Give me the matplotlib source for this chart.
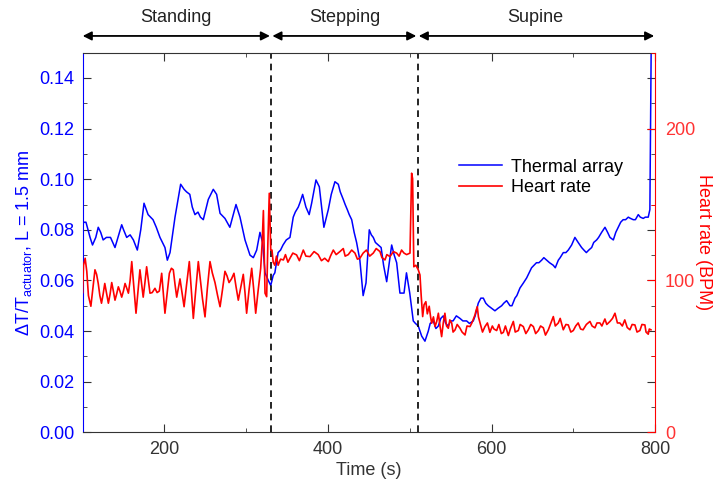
import matplotlib
matplotlib.use("Agg")
import matplotlib.pyplot as plt
from matplotlib.ticker import MultipleLocator
import matplotlib.transforms as mtransforms

plt.rcParams['font.family'] = ['Liberation Sans', 'DejaVu Sans']
plt.rcParams['font.size'] = 13

# Thermal array (blue) : time (s), dT/T
thermal_t = [100, 101, 104, 109, 112, 116, 119, 122, 125, 129, 134, 139.5, 144, 147.7, 150, 153.8, 158, 162, 166.8,
             171, 175, 180, 186, 190, 194.5, 200.6, 203.5, 206.8, 212.9, 219.8, 224, 227, 231, 234, 237.3, 241, 244,
             247.5, 253.6, 259.7, 263.8, 268, 274, 280, 287.5, 292.4, 298.5, 304.6, 308.7, 312.8, 316.8, 320,
             323, 327, 330, 333, 335, 339, 342, 345, 349, 353.5, 357.5, 360, 363.7, 366, 369, 373, 377, 380,
             385.3, 389.4, 395, 400.4, 404, 408.5, 412.6, 415, 418.7, 421, 423.6, 426, 429, 432, 435, 439, 443,
             446.5, 450.5, 453, 455.4, 458, 461.5, 465, 468, 471.8, 477.9, 481, 484, 488, 493, 496, 500, 504.3,
             507, 510.4, 514.6, 518.6, 522.7, 525, 528.8, 532, 535, 538, 541, 544, 547, 550, 553, 557, 561.4,
             565, 569.6, 573, 577.7, 580, 583.8, 587, 590, 593, 596, 600, 604.2, 608, 612.4, 615, 618.5,
             622.6, 625, 628.7, 631, 634.8, 639, 643, 646, 649, 652, 655, 658, 661.3, 664, 667.4, 671, 675.5,
             678, 681.7, 684, 687.8, 691, 693.9, 698, 702, 706, 710.2, 713, 716, 719, 722.5, 725, 728.6, 731,
             734.7, 738.8, 742, 744.9, 749, 752, 755, 758, 761, 764, 767.3, 770, 773.4, 776, 779.5, 782, 785.6,
             788, 791.7, 793.7, 795.5]
thermal_v = [0.080, 0.083, 0.083, 0.077, 0.074, 0.077, 0.081, 0.079, 0.076, 0.077, 0.077, 0.073, 0.078, 0.082, 0.080,
             0.077, 0.078, 0.076, 0.072, 0.080, 0.0905, 0.086, 0.084, 0.081, 0.077, 0.073, 0.068, 0.071, 0.085,
             0.098, 0.096, 0.095, 0.094, 0.089, 0.086, 0.087, 0.085, 0.084, 0.092, 0.096, 0.094, 0.0865, 0.0845,
             0.081, 0.090, 0.085, 0.076, 0.070, 0.069, 0.072, 0.079, 0.075, 0.063, 0.060, 0.058, 0.062, 0.063,
             0.071, 0.072, 0.074, 0.076, 0.077, 0.085, 0.087, 0.089, 0.091, 0.094, 0.089, 0.086, 0.0905, 0.0997,
             0.097, 0.081, 0.088, 0.094, 0.099, 0.098, 0.095, 0.092, 0.090, 0.088, 0.086, 0.084, 0.079, 0.075,
             0.068, 0.054, 0.059, 0.080, 0.078, 0.077, 0.075, 0.074, 0.073, 0.066, 0.0595, 0.074, 0.070, 0.067,
             0.055, 0.055, 0.063, 0.055, 0.044, 0.043, 0.042, 0.038, 0.036, 0.040, 0.043, 0.044, 0.041, 0.042,
             0.045, 0.046, 0.043, 0.042, 0.044, 0.044, 0.046, 0.045, 0.044, 0.044, 0.043, 0.044, 0.046, 0.051,
             0.053, 0.053, 0.051, 0.050, 0.049, 0.048, 0.049, 0.050, 0.051, 0.052, 0.050, 0.050, 0.053, 0.054,
             0.057, 0.059, 0.061, 0.063, 0.065, 0.066, 0.067, 0.067, 0.068, 0.069, 0.068, 0.067, 0.066, 0.065,
             0.068, 0.069, 0.071, 0.071, 0.072, 0.074, 0.077, 0.075, 0.073, 0.072, 0.071, 0.072, 0.073, 0.075,
             0.076, 0.077, 0.079, 0.081, 0.079, 0.077, 0.076, 0.079, 0.081, 0.083, 0.084, 0.084, 0.085, 0.0845,
             0.084, 0.084, 0.086, 0.085, 0.0845, 0.085, 0.085, 0.088, 0.160]

# Heart rate (red) : time (s), BPM
heart_t = [100, 101, 103, 105, 107, 110, 112.5, 115, 117, 119, 121, 123, 125, 127, 129, 131.4, 133.5, 135.5, 137.5,
           139.5, 141.5, 143.6, 145.5, 147.7, 149.8, 151.8, 153.8, 155.9, 158, 160, 162.5, 165.2, 167.5, 170, 172,
           174, 176, 178.2, 180.3, 182.3, 185, 188.4, 191, 193.7, 195, 196.6, 198.5, 200.6, 203, 206, 208.5, 210.8,
           213, 215, 217, 219, 221.5, 224, 227, 230.4, 233, 235.3, 238, 241.4, 245, 246.5, 249.6, 252.5, 255.7,
           258.5, 261.8, 265, 268, 271, 274, 276.5, 279, 282, 285, 287.5, 290.3, 293.5, 296.4, 298.5, 300.5, 303.5,
           306.7, 309, 311.6, 314.5, 317.7, 319.5, 321, 322, 323, 325, 326.5, 328.2, 330, 331.5, 333, 335, 337,
           339, 342, 345.5, 348, 351, 353.5, 357, 361.6, 365, 369.8, 373, 378, 383, 388, 392, 396, 400.4, 403,
           406.5, 410, 414.6, 418.7, 421, 424.8, 429, 433, 436, 439, 443, 447, 451, 455.4, 459, 463.6, 466, 469.7,
           472, 475.8, 480, 484, 487, 490, 493, 496.2, 500.3, 502.3, 503.5, 505, 507.5, 510.4, 512.5, 514, 515.8,
           517.5, 519.7, 521.5, 523.8, 525.5, 526.8, 529, 530.9, 533, 535, 537, 539, 541, 543, 545, 547.2, 549,
           551.3, 553, 555.4, 558, 561.5, 564, 567.6, 570, 573.7, 576, 579.8, 581, 582.6, 584, 586, 589, 592, 595,
           598, 601, 603, 606.3, 609, 612, 614.5, 617, 620.6, 623, 626.7, 629, 632.8, 635, 638.9, 642, 645, 648,
           651.2, 654, 657.3, 660, 663.4, 666, 669.5, 672, 675.6, 678, 681.7, 684, 687.8, 691, 693.9, 697, 700,
           703, 706, 709, 712, 716, 720.4, 723, 726.5, 729, 732.6, 735, 738.7, 741, 744.9, 748, 751, 754, 757,
           760, 763, 766, 769.3, 772, 775.4, 778, 781.5, 784, 787.6, 789, 791.7, 793, 795]
heart_v = [92, 110, 114.6, 106, 90, 83, 95, 107, 104, 98, 90, 85, 91, 98, 92, 85, 91, 98.6, 93, 87, 91, 95.8, 93, 89,
           93, 98, 95, 91.6, 100, 112.4, 96, 78.4, 92, 107, 98, 89, 98, 109, 100, 91.6, 92, 94.8, 92, 93, 98,
           104.7, 92, 78.4, 90, 104.7, 108, 107, 97, 89, 95, 101, 92, 82.7, 97, 112.4, 92, 75, 92, 112.4, 95,
           88, 76, 95, 112.4, 105, 98.6, 90, 82.7, 94, 106, 103, 98.6, 101, 104.7, 96, 87, 96, 104, 92, 78.4,
           94, 108, 95, 78.4, 93, 108, 125, 146, 120, 91.6, 89.3, 125, 157.4, 120, 120, 112, 110, 116, 110, 114,
           113.5, 117, 112, 114.6, 118, 116.8, 113, 120, 116, 115.7, 119, 117, 113, 114.6, 112.4, 116, 120, 117,
           119, 121, 116, 117, 120, 118, 114, 114.6, 118, 120, 116, 118, 121, 119, 115, 113.5, 117, 115.7, 119,
           118, 116, 120, 118, 117, 118, 170.6, 167, 109, 110, 107, 103.6, 90, 76.2, 84, 86, 78, 83, 76, 71.8,
           76, 69.6, 73, 78.4, 70, 63, 72, 78.4, 70, 68.5, 74, 72, 66, 67.4, 71, 68.5, 66, 64.1, 70, 69.6, 72,
           77.3, 80, 82.7, 76, 72, 66, 69.6, 72, 65.8, 70, 68, 67, 71, 65, 65.8, 70, 63.7, 68, 73, 66, 67, 71,
           69.6, 65, 67.5, 71, 69.6, 65, 67, 70, 68.8, 64, 67.5, 71, 76.2, 70, 72, 75, 67.5, 71, 70.7, 66, 67,
           70, 72, 68, 67.5, 71, 73, 70, 68.8, 72, 72, 70, 74.6, 71, 73, 75, 78.4, 72, 72, 70, 74, 69, 67.5, 71,
           70.7, 66, 67, 71, 70.7, 66, 64.6, 68, 67.5]

phase_names = ['Standing', 'Stepping', 'Supine']
phase_start = [100, 332, 511]
phase_end = [329, 508, 799]
phase_label_x = [214, 421, 654]
dividers = [330, 510]

fig = plt.figure(figsize=(7.21, 4.83), dpi=100)
ax = fig.add_axes([0.1147, 0.105, 0.7938, 0.786])
ax2 = ax.twinx()

blue = '#0000ff'
red = '#ff0000'
dark = '#333333'

ax.plot(thermal_t, thermal_v, color=blue, lw=1.1, label='Thermal array', solid_joinstyle='round')
ax2.plot(heart_t, heart_v, color=red, lw=1.2, label='Heart rate', solid_joinstyle='round')

for d in dividers:
    ax.axvline(d, color='black', ls=(0, (4, 3)), lw=1.2)

ax.set_xlim(100, 800)
ax.set_ylim(0, 0.15)
ax2.set_ylim(0, 250)

ax.xaxis.set_major_locator(MultipleLocator(200))
ax.xaxis.set_minor_locator(MultipleLocator(100))
ax.yaxis.set_major_locator(MultipleLocator(0.02))
ax.yaxis.set_minor_locator(MultipleLocator(0.01))
ax2.yaxis.set_major_locator(MultipleLocator(100))
ax2.yaxis.set_minor_locator(MultipleLocator(50))
ax.yaxis.set_major_formatter(plt.FuncFormatter(lambda v, p: f'{v:.2f}'))

ax.tick_params(axis='x', which='both', direction='in', top=True, bottom=True, colors=dark, labelsize=13, pad=6)
ax.tick_params(axis='x', which='major', length=6)
ax.tick_params(axis='x', which='minor', length=3)
ax.tick_params(axis='y', which='both', direction='in', left=True, right=True, color=dark, labelcolor=blue,
               labelsize=13, pad=6)
ax.tick_params(axis='y', which='major', length=6)
ax.tick_params(axis='y', which='minor', length=3)
ax2.tick_params(axis='y', which='both', direction='in', colors=red, labelcolor='#ff3333', labelsize=13, pad=7)
ax2.tick_params(axis='y', which='major', length=6)
ax2.tick_params(axis='y', which='minor', length=3)

ax.spines['left'].set_color(blue)
ax.spines['top'].set_color(dark)
ax.spines['bottom'].set_color(dark)
ax2.spines['right'].set_color(red)
ax2.spines['left'].set_visible(False)
ax2.spines['top'].set_visible(False)
ax2.spines['bottom'].set_visible(False)
ax.spines['right'].set_visible(False)

ax.set_xlabel('Time (s)', color=dark, fontsize=13, labelpad=3)
ax.set_ylabel('ΔT/T$_{\\mathregular{actuator}}$, L = 1.5 mm', color=blue, fontsize=13, labelpad=4)
ax2.set_ylabel('Heart rate (BPM)', color=red, fontsize=13, rotation=270, labelpad=12)

h1, l1 = ax.get_legend_handles_labels()
h2, l2 = ax2.get_legend_handles_labels()
ax2.legend(h1 + h2, l1 + l2, loc='upper left', bbox_to_anchor=(0.645, 0.74), frameon=False, fontsize=13,
           handlelength=2.4, handletextpad=0.5, labelspacing=0.2, borderaxespad=0)

trans = mtransforms.blended_transform_factory(ax.transData, ax.transAxes)
for name, s, e, lx in zip(phase_names, phase_start, phase_end, phase_label_x):
    ax.annotate('', xy=(s, 1.044), xytext=(e, 1.044), xycoords=trans, textcoords=trans,
                arrowprops=dict(arrowstyle='<|-|>', color='black', lw=1.3, mutation_scale=13,
                                shrinkA=0, shrinkB=0), annotation_clip=False)
    ax.text(lx, 1.092, name, transform=trans, ha='center', va='center', fontsize=13, color='#222222')

fig.savefig('out.png', dpi=100)
